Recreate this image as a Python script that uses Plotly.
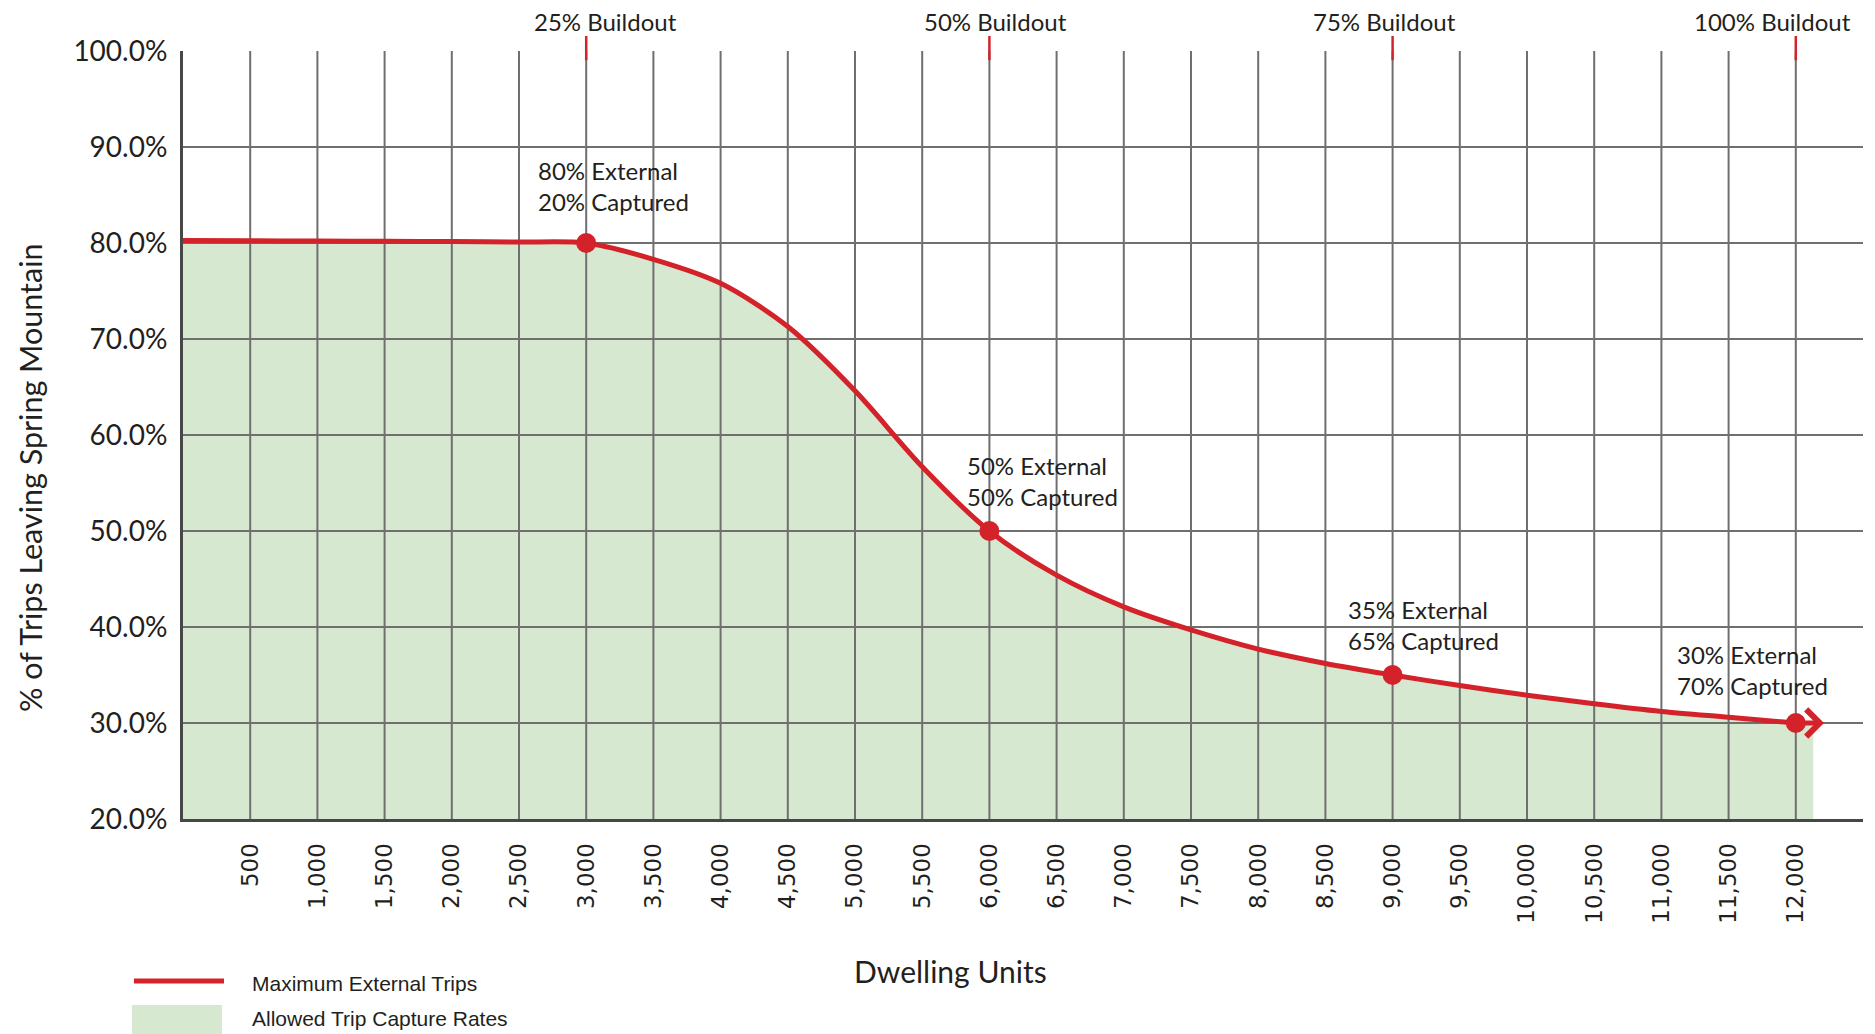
import plotly.graph_objects as go

# Share of trips leaving Spring Mountain by number of dwelling units built
units = [0, 500, 1000, 1500, 2000, 2500, 3000, 3500, 4000, 4500, 5000, 5500,
         6000, 6500, 7000, 7500, 8000, 8500, 9000, 9500, 10000, 10500, 11000,
         11500, 12000]
external_pct = [80.25, 80.23, 80.2, 80.18, 80.15, 80.1, 80.0, 78.3, 75.8, 71.3,
                64.6, 56.7, 50.0, 45.4, 42.1, 39.7, 37.7, 36.2, 35.0, 33.9,
                32.9, 32.0, 31.2, 30.6, 30.0]

# shaded capture area runs a little past the last dwelling-unit step
fill_end_units = 12130
fill_end_pct = 29.95

# buildout milestones
milestone_units = [3000, 6000, 9000, 12000]
milestone_external = [80, 50, 35, 30]
milestone_captured = [20, 50, 65, 70]
buildout_labels = ["25% Buildout", "50% Buildout", "75% Buildout", "100% Buildout"]

x_ticks = [500, 1000, 1500, 2000, 2500, 3000, 3500, 4000, 4500, 5000, 5500, 6000,
           6500, 7000, 7500, 8000, 8500, 9000, 9500, 10000, 10500, 11000, 11500,
           12000]
x_ticktext = ["500", "1,000", "1,500", "2,000", "2,500", "3,000", "3,500", "4,000",
              "4,500", "5,000", "5,500", "6,000", "6,500", "7,000", "7,500", "8,000",
              "8,500", "9,000", "9,500", "10,000", "10,500", "11,000", "11,500",
              "12,000"]
y_ticks = [20, 30, 40, 50, 60, 70, 80, 90, 100]
y_ticktext = ["20.0%", "30.0%", "40.0%", "50.0%", "60.0%", "70.0%", "80.0%",
              "90.0%", "100.0%"]

X_MAX = 12500
RED = "#d3222a"
GREEN = "#d7e8d0"
GRID = "#6f6f6f"
AXIS = "#474747"
TEXT = "#231f20"
MYRIAD = "Lato, 'Open Sans', sans-serif"
NARROW = "'Liberation Sans Narrow', 'Liberation Sans', Arial, sans-serif"
SMOOTH = 0.85

fig = go.Figure()

# allowed trip capture area under the curve
fig.add_trace(go.Scatter(
    x=units + [fill_end_units], y=external_pct + [fill_end_pct],
    mode="lines", line=dict(width=0, color=GREEN, shape="spline", smoothing=SMOOTH),
    fill="tozeroy", fillcolor=GREEN, hoverinfo="skip",
))

# grid drawn as a trace so it sits above the shading but below the curve
gx, gy = [], []
for v in x_ticks:
    gx += [v, v, None]
    gy += [y_ticks[0], y_ticks[-1], None]
for v in y_ticks[1:-1]:
    gx += [0, X_MAX, None]
    gy += [v, v, None]
fig.add_trace(go.Scatter(
    x=gx, y=gy, mode="lines", line=dict(color=GRID, width=2),
    hoverinfo="skip",
))

# maximum external trips curve
fig.add_trace(go.Scatter(
    x=units, y=external_pct, mode="lines",
    line=dict(color=RED, width=5, shape="spline", smoothing=SMOOTH),
    hoverinfo="skip",
))
fig.add_trace(go.Scatter(
    x=milestone_units, y=milestone_external, mode="markers",
    marker=dict(color=RED, size=20), cliponaxis=False, hoverinfo="skip",
))

annotations = []
shapes = []

# arrow continuing the curve beyond full buildout
annotations.append(dict(
    x=12210, y=milestone_external[-1], ax=milestone_units[-1], ay=milestone_external[-1],
    xref="x", yref="y", axref="x", ayref="y", text="", showarrow=True,
    arrowhead=4, arrowsize=1.05, arrowwidth=5, arrowcolor=RED, standoff=0,
))

# milestone labels
label_xshift = [-50, -24, -47, -121]
label_yshift = [57, 50, 50, 53]
for u, ext, cap, dx, dy in zip(milestone_units, milestone_external,
                               milestone_captured, label_xshift, label_yshift):
    annotations.append(dict(
        x=u, y=ext, xref="x", yref="y", showarrow=False,
        text=f"{ext}% External<br>{cap}% Captured",
        xanchor="left", yanchor="middle", align="left",
        xshift=dx, yshift=dy, font=dict(family=MYRIAD, size=24, color=TEXT),
    ))

# buildout markers above the plot
buildout_xshift = [19, 6, -8, -23]
for u, lab, dx in zip(milestone_units, buildout_labels, buildout_xshift):
    annotations.append(dict(
        x=u, y=1.039, xref="x", yref="paper", showarrow=False, text=lab,
        xanchor="center", yanchor="middle", xshift=dx,
        font=dict(family=MYRIAD, size=24, color=TEXT),
    ))
    shapes.append(dict(
        type="line", xref="x", yref="paper", x0=u, x1=u, y0=0.988, y1=1.0195,
        line=dict(color=RED, width=2.5), layer="above",
    ))

# axis titles
annotations.append(dict(
    x=-0.0911, y=0.444, xref="paper", yref="paper", showarrow=False,
    text="% of Trips Leaving Spring Mountain", textangle=-90,
    xanchor="center", yanchor="middle",
    font=dict(family=MYRIAD, size=30.5, color=TEXT),
))
annotations.append(dict(
    x=0.457, y=-0.198, xref="paper", yref="paper", showarrow=False,
    text="Dwelling Units", xanchor="center", yanchor="middle",
    font=dict(family=MYRIAD, size=30, color=TEXT),
))

# legend key
shapes.append(dict(
    type="line", xref="paper", yref="paper", x0=-0.0292, x1=0.0244,
    y0=-0.2109, y1=-0.2109, line=dict(color=RED, width=5),
))
shapes.append(dict(
    type="rect", xref="paper", yref="paper", x0=-0.0304, x1=0.0232,
    y0=-0.29, y1=-0.2422, fillcolor=GREEN, line=dict(width=0),
))
for txt, yy in [("Maximum External Trips", -0.2148),
                ("Allowed Trip Capture Rates", -0.2604)]:
    annotations.append(dict(
        x=0.0399, y=yy, xref="paper", yref="paper", showarrow=False, text=txt,
        xanchor="left", yanchor="middle",
        font=dict(family=NARROW, size=21, color=TEXT),
    ))

fig.update_layout(
    width=1875, height=1034,
    margin=dict(l=183, r=12, t=51, b=215),
    paper_bgcolor="white", plot_bgcolor="white",
    showlegend=False,
    annotations=annotations, shapes=shapes,
    xaxis=dict(
        range=[0, X_MAX], tickvals=x_ticks, ticktext=x_ticktext, tickangle=-90,
        showgrid=False, zeroline=False, showline=True, linecolor=AXIS, linewidth=3,
        ticks="", ticklabelstandoff=12,
        tickfont=dict(family="'DejaVu Sans', sans-serif", size=23, color=TEXT),
        fixedrange=True,
    ),
    yaxis=dict(
        range=[20, 100], tickvals=y_ticks, ticktext=y_ticktext,
        showgrid=False, zeroline=False, showline=True, linecolor=AXIS, linewidth=3,
        ticks="", ticklabelstandoff=7,
        tickfont=dict(family=MYRIAD, size=28, color=TEXT),
        fixedrange=True,
    ),
)

fig.write_html("out.html")
